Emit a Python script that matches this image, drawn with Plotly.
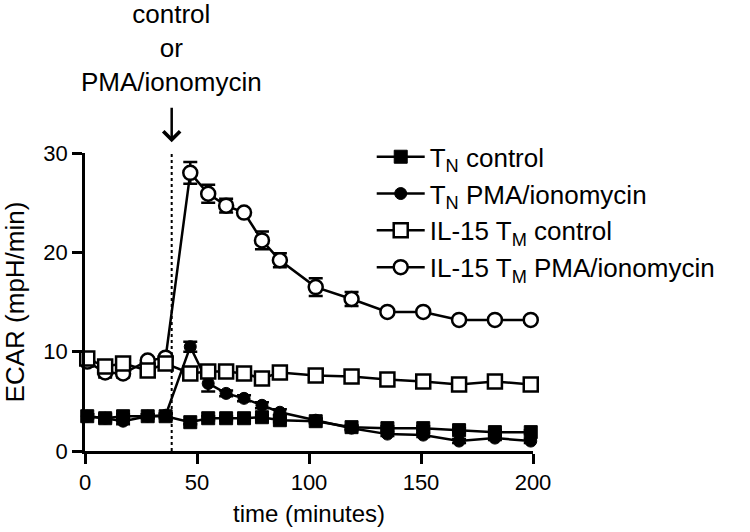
import plotly.graph_objects as go

# ---- data ----
time_min = [1, 9, 17, 28, 36, 47, 55, 63, 71, 79, 87, 103, 119, 135, 151, 167, 183, 199]

tn_control = [3.5, 3.3, 3.5, 3.5, 3.5, 2.9, 3.3, 3.3, 3.3, 3.4, 3.1, 3.0, 2.4, 2.3, 2.3, 2.1, 1.9, 1.9]
tn_control_err = [0.2, 0.2, 0.2, 0.2, 0.2, 0.2, 0.2, 0.2, 0.2, 0.2, 0.2, 0.2, 0.2, 0.2, 0.2, 0.2, 0.2, 0.2]

tn_pma = [3.5, 3.3, 3.0, 3.5, 3.6, 10.5, 6.8, 5.8, 5.3, 4.6, 3.9, 3.1, 2.3, 1.7, 1.6, 1.0, 1.3, 1.0]
tn_pma_err = [0.2, 0.4, 0.3, 0.2, 0.2, 0.5, 0.8, 0.3, 0.3, 0.3, 0.3, 0.2, 0.2, 0.2, 0.2, 0.2, 0.2, 0.2]

il15_control = [9.3, 8.5, 8.8, 8.1, 8.8, 7.8, 8.0, 8.0, 7.8, 7.3, 7.9, 7.6, 7.5, 7.2, 7.0, 6.7, 7.0, 6.7]
il15_control_err = [0.4, 0.6, 0.3, 0.3, 0.3, 0.3, 0.3, 0.3, 0.3, 0.3, 0.3, 0.2, 0.2, 0.2, 0.2, 0.2, 0.2, 0.2]

il15_pma = [9.0, 7.9, 7.8, 9.1, 9.4, 28.0, 25.9, 24.7, 24.0, 21.2, 19.2, 16.5, 15.3, 14.0, 14.0, 13.2, 13.2, 13.2]
il15_pma_err = [0.5, 0.5, 0.4, 0.3, 0.3, 1.1, 0.9, 0.7, 0.3, 0.9, 0.7, 0.9, 0.7, 0.3, 0.3, 0.3, 0.3, 0.3]

series_names = [
    "T<sub>N</sub> control",
    "T<sub>N</sub> PMA/ionomycin",
    "IL-15 T<sub>M</sub> control",
    "IL-15 T<sub>M</sub> PMA/ionomycin",
]

injection_time = 38.7
x_ticks = [0, 50, 100, 150, 200]
y_ticks = [0, 10, 20, 30]
x_title = "time (minutes)"
y_title = "ECAR (mpH/min)"
annotation_text = "control<br>or<br>PMA/ionomycin"

FONT = "Liberation Sans, Arial, Helvetica, sans-serif"
BLACK = "#000000"


def err(arr):
    return dict(type="data", array=arr, visible=True, color=BLACK, thickness=2.5, width=7)


fig = go.Figure()

# draw order: T_N PMA, T_N control, IL-15 PMA, IL-15 control (legend ranked separately)
fig.add_trace(go.Scatter(
    x=time_min, y=tn_pma, name=series_names[1], legendrank=2,
    mode="lines+markers",
    line=dict(color=BLACK, width=2.5),
    marker=dict(symbol="circle", size=12, color=BLACK, line=dict(color=BLACK, width=1)),
    error_y=err(tn_pma_err), cliponaxis=False,
))
fig.add_trace(go.Scatter(
    x=time_min, y=tn_control, name=series_names[0], legendrank=1,
    mode="lines+markers",
    line=dict(color=BLACK, width=2.5),
    marker=dict(symbol="square", size=13, color=BLACK, line=dict(color=BLACK, width=1)),
    error_y=err(tn_control_err), cliponaxis=False,
))
fig.add_trace(go.Scatter(
    x=time_min, y=il15_pma, name=series_names[3], legendrank=4,
    mode="lines+markers",
    line=dict(color=BLACK, width=2.5),
    marker=dict(symbol="circle", size=14, color="white", line=dict(color=BLACK, width=2.5)),
    error_y=err(il15_pma_err), cliponaxis=False,
))
fig.add_trace(go.Scatter(
    x=time_min, y=il15_control, name=series_names[2], legendrank=3,
    mode="lines+markers",
    line=dict(color=BLACK, width=2.5),
    marker=dict(symbol="square", size=14, color="white", line=dict(color=BLACK, width=2.5)),
    error_y=err(il15_control_err), cliponaxis=False,
))

# dotted injection line
fig.add_shape(type="line", xref="x", yref="y",
              x0=injection_time, x1=injection_time, y0=0, y1=30,
              line=dict(color=BLACK, width=2, dash="dot"), layer="below")

# arrow (tip just above the top of the axis, in paper coordinates so it is not hidden)
fig.add_annotation(x=injection_time, y=1.036, xref="x", yref="paper",
                   text="", showarrow=True, ax=0, ay=-36,
                   arrowhead=4, arrowsize=1.3, arrowwidth=2.5, arrowcolor=BLACK)
# label above arrow
fig.add_annotation(x=injection_time, y=1.352, xref="x", yref="paper",
                   text=annotation_text, showarrow=False,
                   xanchor="center", yanchor="middle",
                   font=dict(family=FONT, size=26, color=BLACK))

fig.update_layout(
    width=750, height=532,
    margin=dict(l=85, r=217, t=153, b=81),
    paper_bgcolor="white", plot_bgcolor="white",
    font=dict(family=FONT, color=BLACK, size=22),
    showlegend=True,
    legend=dict(x=0.64, xanchor="left", y=1.066, yanchor="top",
                font=dict(family=FONT, size=26, color=BLACK),
                bgcolor="rgba(0,0,0,0)", itemwidth=48,
                tracegroupgap=0),
    xaxis=dict(range=[0, 200], tickvals=x_ticks, showgrid=False, zeroline=False,
               showline=True, linecolor=BLACK, linewidth=2.5, automargin=False,
               ticks="outside", ticklen=10, tickwidth=2.5, tickcolor=BLACK,
               tickfont=dict(family=FONT, size=22, color=BLACK),
               title=dict(text=x_title, font=dict(family=FONT, size=24, color=BLACK), standoff=12)),
    yaxis=dict(range=[0, 30], tickvals=y_ticks, showgrid=False, zeroline=False,
               showline=True, linecolor=BLACK, linewidth=2.5, automargin=False,
               ticks="outside", ticklen=10, tickwidth=2.5, tickcolor=BLACK,
               tickfont=dict(family=FONT, size=22, color=BLACK),
               title=dict(text=y_title, font=dict(family=FONT, size=26, color=BLACK), standoff=18)),
)

fig.write_html("out.html", config={"displayModeBar": False},
               post_script="document.body.style.margin='0px';")
